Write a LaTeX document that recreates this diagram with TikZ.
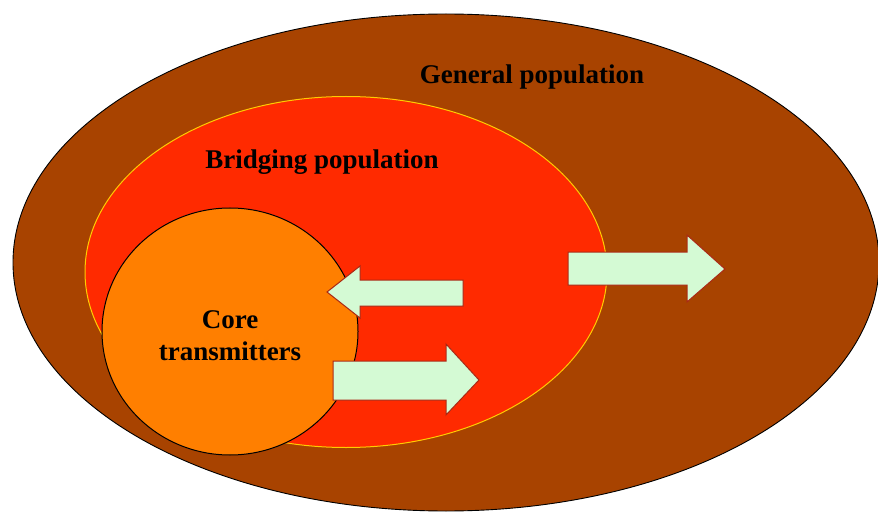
\documentclass[tikz,border=0pt]{standalone}
\usepackage{fontspec}
\setmainfont{Liberation Serif}
\usetikzlibrary{shapes.geometric}
\definecolor{genbrown}{RGB}{168,67,0}
\definecolor{bridgered}{RGB}{255,42,0}
\definecolor{coreorange}{RGB}{255,127,0}
\definecolor{flowgreen}{RGB}{212,250,212}
\definecolor{flowedge}{RGB}{170,40,20}
\definecolor{rimyellow}{RGB}{255,204,0}
\tikzset{
  group/.style={ellipse, inner sep=0pt},
  label text/.style={font=\bfseries\fontsize{27}{32}\selectfont, text=black, align=center},
  flow/.style={fill=flowgreen, draw=flowedge, line width=1pt, line join=miter}
}
\begin{document}
\begin{tikzpicture}[x=1pt, y=-1pt]
\useasboundingbox (0,0) rectangle (878,513);
% nested population groups
\node[group, fill=genbrown, draw=black, line width=0.9pt,
      minimum width=866pt, minimum height=497pt] (general) at (446,262.5) {};
\node[group, fill=bridgered, draw=rimyellow, line width=1pt,
      minimum width=522pt, minimum height=351pt] (bridging) at (346,272) {};
\node[group, fill=coreorange, draw=black, line width=1pt,
      minimum width=256pt, minimum height=247pt] (core) at (230,331.5) {};
% group labels
\node[label text] (generallbl) at (532,77) {General population};
\node[label text] (bridginglbl) at (322,162) {Bridging population};
\node[label text] (corelbl) at (230,336) {Core\\transmitters};
% flows between groups
\draw[flow] (463,280) -- (360,280) -- (360,266) -- (327,292)
  -- (360,318) -- (360,306) -- (463,306) -- cycle;
\draw[flow] (333,361) -- (446,361) -- (446,344) -- (479,380)
  -- (446,415) -- (446,400) -- (333,400) -- cycle;
\draw[flow] (568,252) -- (687,252) -- (687,235) -- (725,269)
  -- (687,302) -- (687,285) -- (568,285) -- cycle;
\end{tikzpicture}
\end{document}
